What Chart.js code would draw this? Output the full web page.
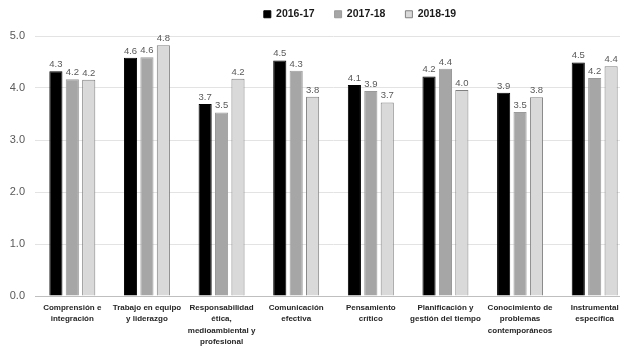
<!DOCTYPE html>
<html lang="es">
<head>
<meta charset="utf-8">
<script src="https://cdn.jsdelivr.net/npm/chart.js@4.4.1/dist/chart.umd.min.js"></script>
<style>
  html, body { margin: 0; padding: 0; background: #fff; overflow: hidden; }
  #wrap { width: 634px; height: 346px; }
</style>
</head>
<body>
<div id="wrap"><canvas id="myChart" width="634" height="346"></canvas></div>
<script>
// chart data
const categories = [
  ["Comprensión e", "integración"],
  ["Trabajo en equipo", "y liderazgo"],
  ["Responsabilidad", "ética,", "medioambiental y", "profesional"],
  ["Comunicación", "efectiva"],
  ["Pensamiento", "crítico"],
  ["Planificación y", "gestión del tiempo"],
  ["Conocimiento de", "problemas", "contemporáneos"],
  ["Instrumental", "específica"]
];
const seriesNames = ["2016-17", "2017-18", "2018-19"];
const values1617 = [4.32, 4.58, 3.69, 4.53, 4.06, 4.22, 3.91, 4.49];
const values1718 = [4.17, 4.59, 3.53, 4.33, 3.94, 4.37, 3.54, 4.19];
const values1819 = [4.16, 4.82, 4.18, 3.83, 3.72, 3.96, 3.82, 4.42];
const yTickLabels = ["0.0", "1.0", "2.0", "3.0", "4.0", "5.0"];

const FONT = '"Liberation Sans", Arial, sans-serif';

// numbers over the bars
const valueLabels = {
  id: "valueLabels",
  afterDatasetsDraw(chart) {
    const ctx = chart.ctx;
    ctx.save();
    ctx.font = "9.5px " + FONT;
    ctx.fillStyle = "#595959";
    ctx.textAlign = "center";
    ctx.textBaseline = "bottom";
    chart.data.datasets.forEach((ds, i) => {
      chart.getDatasetMeta(i).data.forEach((bar, j) => {
        ctx.fillText(ds.data[j].toFixed(1), bar.x, bar.y - 2);
      });
    });
    ctx.restore();
  }
};

// keep the legend short and move it where the original has it
const legendPlace = {
  id: "legendPlace",
  beforeLayout(chart) {
    const lg = chart.legend;
    if (lg && !lg.fitPatched) {
      const fit = lg.fit;
      lg.fit = function () { fit.call(this); this.height = 36; };
      lg.fitPatched = true;
    }
  },
  afterLayout(chart) {
    const lg = chart.legend;
    const dx = 360 - (lg.left + lg.right) / 2;
    lg.left += dx; lg.right += dx;
    lg.top -= 11; lg.bottom -= 11;
  }
};

const ctx = document.getElementById("myChart").getContext("2d");
const myChart = new Chart(ctx, {
  type: "bar",
  data: {
    labels: categories,
    datasets: [
      { label: seriesNames[0], data: values1617, backgroundColor: "#000000", borderColor: "#000000", borderWidth: 1 },
      { label: seriesNames[1], data: values1718, backgroundColor: "#a6a6a6", borderColor: "#9a9a9a", borderWidth: 1 },
      { label: seriesNames[2], data: values1819, backgroundColor: "#d9d9d9", borderColor: "#808080", borderWidth: 1 }
    ]
  },
  options: {
    responsive: false,
    animation: false,
    devicePixelRatio: 1,
    categoryPercentage: 0.66,
    barPercentage: 0.8,
    layout: { padding: { top: 0, right: 2, bottom: 0, left: 0 } },
    plugins: {
      tooltip: { enabled: false },
      legend: {
        position: "top",
        align: "center",
        labels: {
          boxWidth: 7,
          boxHeight: 7,
          padding: 20,
          color: "#1a1a1a",
          font: { family: FONT, size: 10.5, weight: "bold" }
        }
      }
    },
    scales: {
      x: {
        grid: { display: false, drawTicks: false },
        border: { display: true, color: "#bfbfbf", width: 1 },
        ticks: {
          autoSkip: false,
          maxRotation: 0,
          padding: 6,
          color: "#262626",
          font: { family: FONT, size: 8, weight: "bold", lineHeight: 1.43 }
        },
        afterFit(scale) { scale.height = 50; }
      },
      y: {
        min: 0,
        max: 5,
        grid: {
          drawTicks: false,
          color: (c) => (c.tick && c.tick.value === 0 ? "#bfbfbf" : "#e3e3e3")
        },
        border: { display: false },
        ticks: {
          stepSize: 1,
          padding: 10,
          color: "#595959",
          font: { family: FONT, size: 11 },
          callback: (v, i) => yTickLabels[i]
        },
        afterFit(scale) { scale.width = 35; }
      }
    }
  },
  plugins: [valueLabels, legendPlace]
});
</script>
</body>
</html>
